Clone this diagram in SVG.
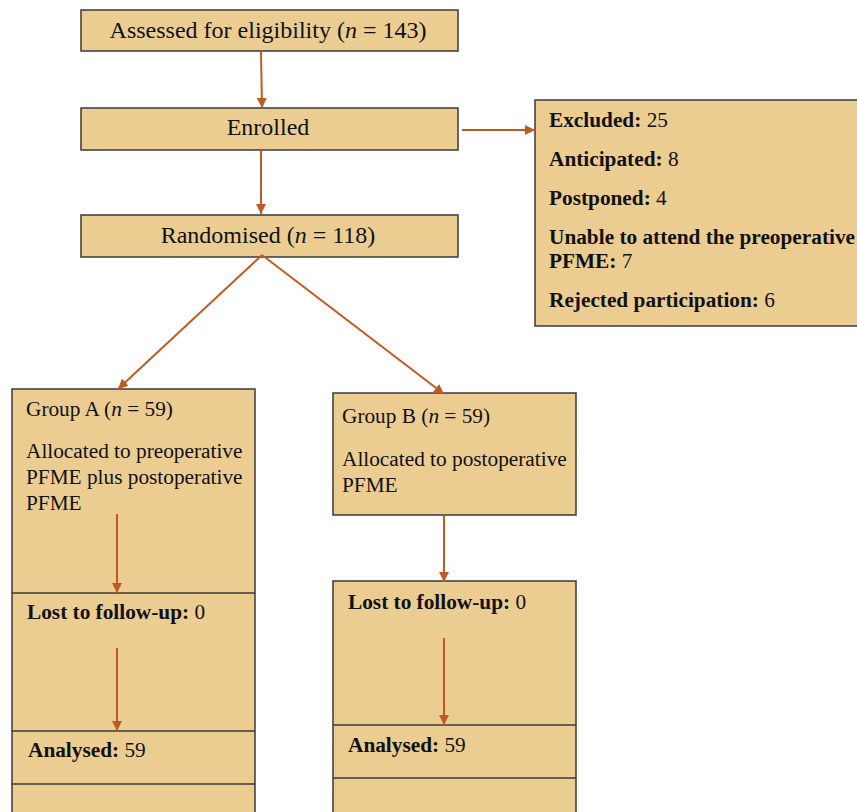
<svg xmlns="http://www.w3.org/2000/svg" width="857" height="812" viewBox="0 0 857 812">
<defs>
<marker id="ah" viewBox="0 0 10 10" refX="10" refY="5" markerWidth="10" markerHeight="10" markerUnits="userSpaceOnUse" orient="auto">
<path d="M0,0 L10,5 L0,10 z" fill="#C05A22"/>
</marker>
<style>
.box{fill:#EBCD91;stroke:#3a3a3a;stroke-width:1.5}
.div{stroke:#3a3a3a;stroke-width:1.5;fill:none}
.t{font-family:"Liberation Serif","Times New Roman",serif;fill:#111}
.big{font-size:24px}
.sm{font-size:21.3px}
.b{font-weight:bold}
.c{stroke:#C05A22;stroke-width:2;fill:none;marker-end:url(#ah)}
</style>
</defs>
<rect width="857" height="812" fill="#fff"/>
<g id="assessed">
<rect class="box" x="81" y="10" width="377" height="41"/>
<text class="t big" x="268" y="38" text-anchor="middle">Assessed for eligibility (<tspan font-style="italic">n</tspan> = 143)</text>
</g>
<g id="enrolled">
<rect class="box" x="81" y="108" width="377" height="42"/>
<text class="t big" x="268" y="135" text-anchor="middle">Enrolled</text>
</g>
<g id="randomised">
<rect class="box" x="81" y="215" width="377" height="42"/>
<text class="t big" x="268" y="243" text-anchor="middle">Randomised (<tspan font-style="italic">n</tspan> = 118)</text>
</g>
<g id="excluded">
<rect class="box" x="535" y="100" width="330" height="226"/>
<text class="t sm" x="549" y="127"><tspan class="b">Excluded:</tspan> 25</text>
<text class="t sm" x="549" y="166"><tspan class="b">Anticipated:</tspan> 8</text>
<text class="t sm" x="549" y="205"><tspan class="b">Postponed:</tspan> 4</text>
<text class="t sm" x="549" y="244"><tspan class="b">Unable to attend the preoperative</tspan></text>
<text class="t sm" x="549" y="268"><tspan class="b">PFME:</tspan> 7</text>
<text class="t sm" x="549" y="307"><tspan class="b">Rejected participation:</tspan> 6</text>
</g>
<g id="groupA">
<rect class="box" x="12" y="389" width="243" height="430"/>
<line class="div" x1="12" y1="593" x2="255" y2="593"/>
<line class="div" x1="12" y1="731" x2="255" y2="731"/>
<line class="div" x1="12" y1="784" x2="255" y2="784"/>
<text class="t sm" x="26" y="416">Group A (<tspan font-style="italic">n</tspan> = 59)</text>
<text class="t sm" x="26" y="458">Allocated to preoperative</text>
<text class="t sm" x="26" y="484">PFME plus postoperative</text>
<text class="t sm" x="26" y="510">PFME</text>
<text class="t sm" x="27" y="619"><tspan class="b">Lost to follow-up:</tspan> 0</text>
<text class="t sm" x="28" y="757"><tspan class="b">Analysed:</tspan> 59</text>
</g>
<g id="groupB">
<rect class="box" x="333" y="393" width="243" height="122"/>
<text class="t sm" x="342" y="423">Group B (<tspan font-style="italic">n</tspan> = 59)</text>
<text class="t sm" x="342" y="466">Allocated to postoperative</text>
<text class="t sm" x="342" y="492">PFME</text>
</g>
<g id="groupB-followup">
<rect class="box" x="333" y="581" width="243" height="240"/>
<line class="div" x1="333" y1="725" x2="576" y2="725"/>
<line class="div" x1="333" y1="778" x2="576" y2="778"/>
<text class="t sm" x="348" y="609"><tspan class="b">Lost to follow-up:</tspan> 0</text>
<text class="t sm" x="348" y="752"><tspan class="b">Analysed:</tspan> 59</text>
</g>
<g id="connectors">
<line class="c" x1="261" y1="51" x2="262" y2="108"/>
<line class="c" x1="261" y1="150" x2="261" y2="214"/>
<line class="c" x1="462" y1="130" x2="535" y2="130"/>
<line class="c" x1="262" y1="255" x2="118" y2="389"/>
<line class="c" x1="262" y1="255" x2="444" y2="394"/>
<line class="c" x1="117" y1="514" x2="117" y2="593"/>
<line class="c" x1="117" y1="648" x2="117" y2="731"/>
<line class="c" x1="444" y1="515" x2="444" y2="582"/>
<line class="c" x1="444" y1="638" x2="444" y2="725"/>
</g>
</svg>
